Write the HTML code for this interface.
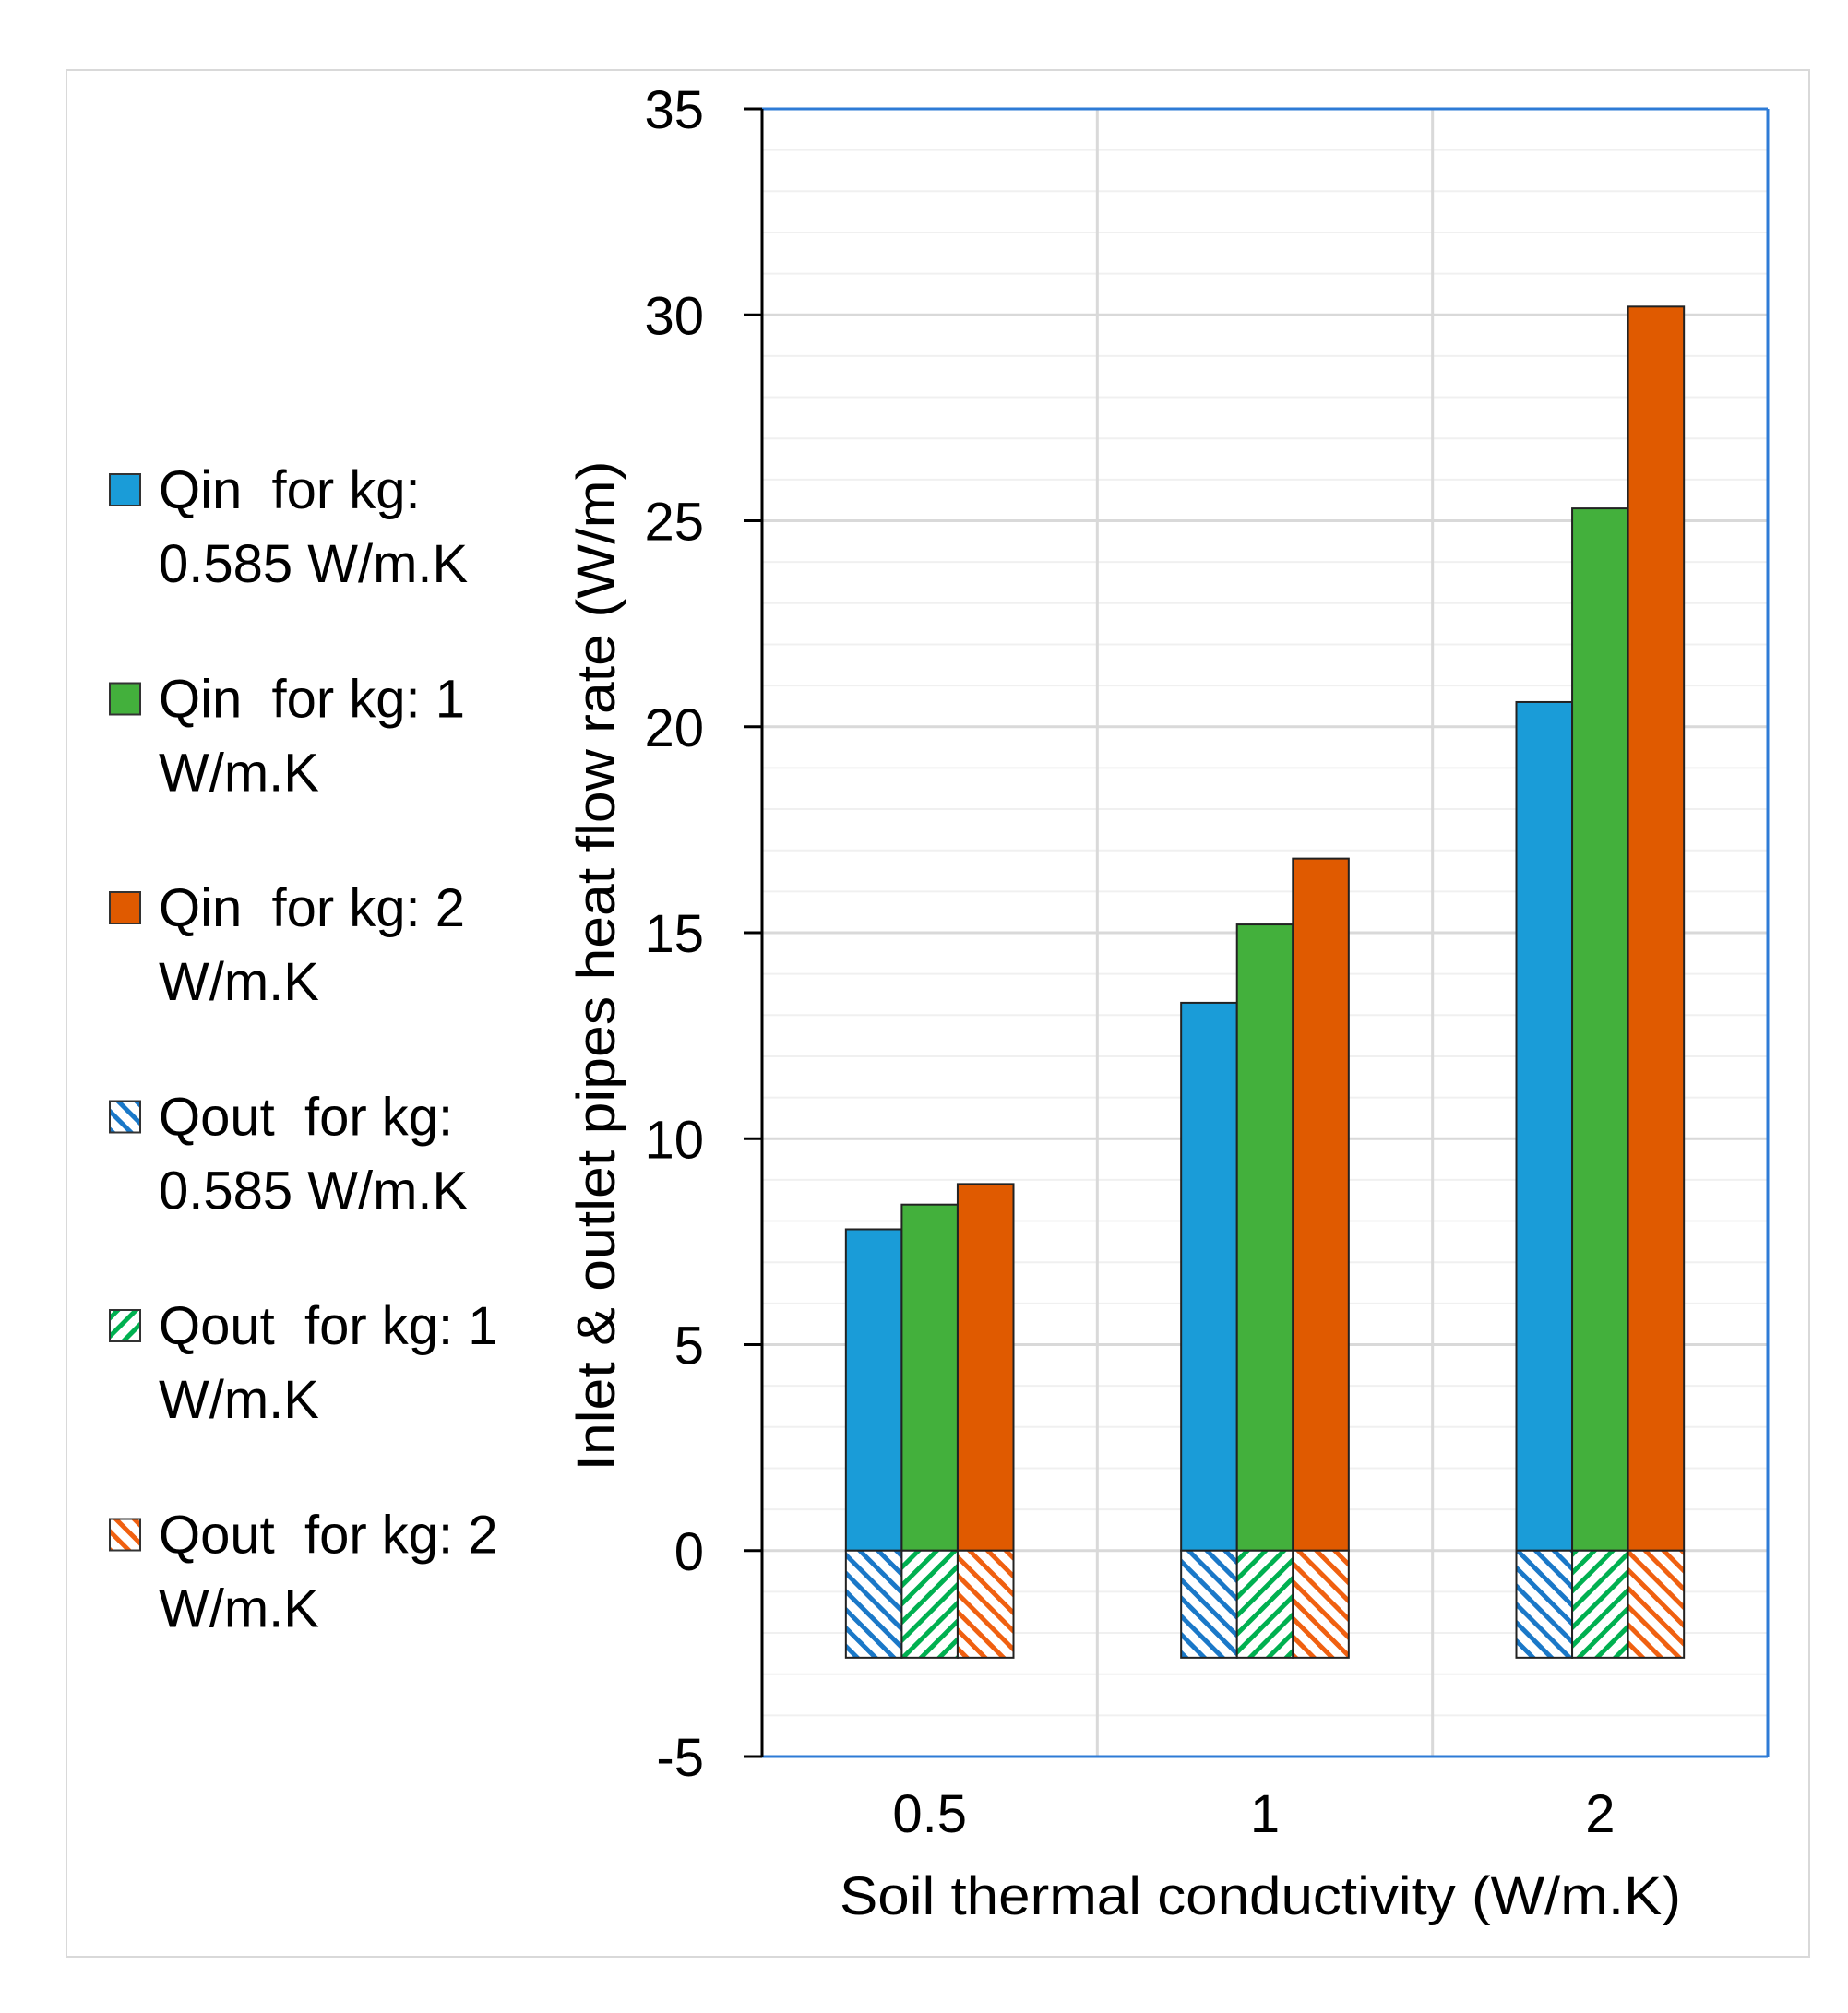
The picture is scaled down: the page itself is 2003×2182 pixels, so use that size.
<!DOCTYPE html>
<html><head><meta charset="utf-8"><style>
html,body{margin:0;padding:0;background:#fff;}
svg{display:block;font-family:"Liberation Sans",sans-serif;}
.pre{white-space:pre;}
</style></head><body>
<svg id="chart" width="2003" height="2182" viewBox="0 0 2003 2182" xmlns="http://www.w3.org/2000/svg">
<defs>
<pattern id="hb" patternUnits="userSpaceOnUse" width="14" height="14" patternTransform="rotate(-45)"><rect width="14" height="14" fill="#fff"/><rect x="0" y="0" width="5" height="14" fill="#1a78c8"/></pattern>
<pattern id="hg" patternUnits="userSpaceOnUse" width="14" height="14" patternTransform="rotate(45)"><rect width="14" height="14" fill="#fff"/><rect x="0" y="0" width="5" height="14" fill="#00b050"/></pattern>
<pattern id="ho" patternUnits="userSpaceOnUse" width="14" height="14" patternTransform="rotate(-45)"><rect width="14" height="14" fill="#fff"/><rect x="0" y="0" width="5" height="14" fill="#f06010"/></pattern>
</defs>
<rect x="72" y="76" width="1889" height="2045" fill="#fff" stroke="#d9d9d9" stroke-width="2"/>
<g id="grid"></g>
<g id="bars"></g>
<g id="axes"></g>
<g id="legend"></g>
<text transform="translate(666,1047) rotate(-90)" text-anchor="middle" font-size="58" textLength="1095" lengthAdjust="spacingAndGlyphs">Inlet &amp; outlet pipes heat flow rate (W/m)</text>
<text x="1366" y="2075" text-anchor="middle" font-size="58" textLength="912" lengthAdjust="spacingAndGlyphs">Soil thermal conductivity (W/m.K)</text>
</svg>
<script>
const categories = ["0.5", "1", "2"];
const qinLow = [7.8, 13.3, 20.6];
const qinMid = [8.4, 15.2, 25.3];
const qinHigh = [8.9, 16.8, 30.2];
const qoutLow = [-2.6, -2.6, -2.6];
const qoutMid = [-2.6, -2.6, -2.6];
const qoutHigh = [-2.6, -2.6, -2.6];
const yTicks = [-5, 0, 5, 10, 15, 20, 25, 30, 35];
const legendLabels = [["Qin  for kg:", "0.585 W/m.K"], ["Qin  for kg: 1", "W/m.K"], ["Qin  for kg: 2", "W/m.K"], ["Qout  for kg:", "0.585 W/m.K"], ["Qout  for kg: 1", "W/m.K"], ["Qout  for kg: 2", "W/m.K"]];

const NS = "http://www.w3.org/2000/svg";
const L = 826, R = 1916, T = 118, B = 1904, yMin = -5, yMax = 35;
const y = v => B - (v - yMin) / (yMax - yMin) * (B - T);
const catW = (R - L) / categories.length;
const barW = catW * 0.5 / 3;
const x = (i, k) => L + catW * i + catW * 0.25 + k * barW;
function mk(tag, attrs, parent) { const e = document.createElementNS(NS, tag); for (const a in attrs) e.setAttribute(a, attrs[a]); parent.appendChild(e); return e; }
const grid = document.getElementById('grid'), bars = document.getElementById('bars'), axes = document.getElementById('axes'), leg = document.getElementById('legend');

for (let v = yMin; v <= yMax; v += 1) {
  if (v % 5 === 0) continue;
  const g = mk('line', {x1: L, x2: R, y1: y(v), y2: y(v), stroke: '#f0f0f0', 'stroke-width': 2}, grid);
  
  
}
yTicks.forEach(v => {
  const g = mk('line', {x1: L, x2: R, y1: y(v), y2: y(v), stroke: '#d9d9d9', 'stroke-width': 3}, grid);
  
  
  const t = mk('line', {x1: 806, x2: L, y1: y(v), y2: y(v), stroke: '#000', 'stroke-width': 3}, axes);
  
  
  const tx = mk('text', {x: 763, y: y(v) + 21, 'text-anchor': 'end', 'font-size': 58}, axes);
  tx.textContent = String(v);
  
  
});
for (let i = 1; i < categories.length; i++) {
  const g = mk('line', {x1: L + catW * i, x2: L + catW * i, y1: T, y2: B, stroke: '#d9d9d9', 'stroke-width': 3}, grid);
  
  
}
const series = [
  [qinLow, '#1a9cd8', 'bar-qin-0585'], [qinMid, '#43b03c', 'bar-qin-1'], [qinHigh, '#e05a00', 'bar-qin-2'],
  [qoutLow, 'url(#hb)', 'bar-qout-0585'], [qoutMid, 'url(#hg)', 'bar-qout-1'], [qoutHigh, 'url(#ho)', 'bar-qout-2']
];
series.forEach((s, si) => {
  s[0].forEach((v, i) => {
    const k = si % 3;
    const top = Math.min(y(v), y(0)), h = Math.abs(y(v) - y(0));
    const r = mk('rect', {x: x(i, k), y: top, width: barW, height: h, fill: s[1], stroke: '#222', 'stroke-width': 2}, bars);
    
    
  });
});
categories.forEach((c, i) => {
  const t = mk('text', {x: L + catW * (i + 0.5), y: 1986, 'text-anchor': 'middle', 'font-size': 58}, axes);
  t.textContent = c;
  
  
});
const ba = mk('line', {x1: L, x2: R, y1: B, y2: B, stroke: '#2e7bd6', 'stroke-width': 3}, axes);


const ta = mk('line', {x1: L, x2: R, y1: T, y2: T, stroke: '#2e7bd6', 'stroke-width': 3}, axes);


const ra = mk('line', {x1: R, x2: R, y1: T, y2: B, stroke: '#2e7bd6', 'stroke-width': 3}, axes);


const ya = mk('line', {x1: L, x2: L, y1: T, y2: B, stroke: '#000', 'stroke-width': 3}, axes);



legendLabels.forEach((lab, i) => {
  const cy = 531 + i * 226.5;
  const g = mk('g', {}, leg);
  
  
  const sw = mk('rect', {x: 119, y: cy - 17, width: 33, height: 34, fill: series[i][1], stroke: '#333', 'stroke-width': 2}, g);
  
  
  lab.forEach((ln, j) => {
    const t = mk('text', {x: 172, y: cy + 20 + j * 80, 'font-size': 58, 'class': 'pre'}, g);
    t.textContent = ln;
    
    
  });
});
</script>
</body></html>
